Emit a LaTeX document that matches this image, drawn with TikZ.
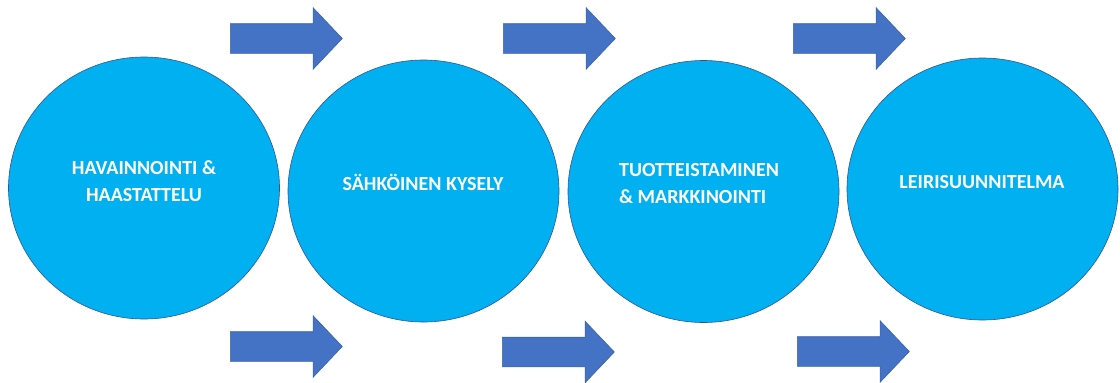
\documentclass[tikz,border=0pt]{standalone}
\usepackage{fontspec}
\setmainfont{Carlito}
\usetikzlibrary{shapes.geometric,shapes.arrows}
\definecolor{discfill}{HTML}{00B0F0}
\definecolor{discline}{HTML}{2F5597}
\definecolor{arrowfill}{HTML}{4472C4}
\definecolor{arrowline}{HTML}{3A62AA}
\tikzset{
  disc/.style={ellipse,draw=discline,fill=discfill,line width=0.6pt,
               minimum width=271,minimum height=262,inner sep=0pt},
  disctext/.style={text=white,font=\fontsize{20}{27}\selectfont\bfseries,
                   align=center,inner sep=0pt},
  blockarr/.style={single arrow,draw=arrowline,fill=arrowfill,line width=0.6pt,
                   minimum height=112,inner xsep=0pt,inner ysep=14.5pt,
                   single arrow head extend=16,single arrow tip angle=93,
                   single arrow head indent=0pt,anchor=tail}
}

\begin{document}
\begin{tikzpicture}[x=1pt,y=-1pt]
  \path[use as bounding box] (0,0) rectangle (1120,383);
  % the four steps
  \node[disc] (havainnointi) at (144,188) {};
  \node[disc] (kysely) at (423.5,191) {};
  \node[disc] (tuotteistaminen) at (703.5,191.5) {};
  \node[disc] (leiri) at (982.5,189) {};
  \node[disctext] (havainnointitxt) at (144,181)
    {HAVAINNOINTI \&\\HAASTATTELU};
  \node[disctext] (kyselytxt) at (423,182) {SÄHKÖINEN KYSELY};
  \node[disctext,align=left] (tuotteistaminentxt) at (699,184)
    {TUOTTEISTAMINEN\\\& MARKKINOINTI};
  \node[disctext] (leiritxt) at (982,182) {LEIRISUUNNITELMA};
  % block arrows above and below, placed by their tails
  \node[blockarr] (ylanuoli1) at (230,38.5) {};
  \node[blockarr] (ylanuoli2) at (503,38.5) {};
  \node[blockarr] (ylanuoli3) at (793,38.5) {};
  \node[blockarr] (alanuoli1) at (230,346.5) {};
  \node[blockarr] (alanuoli2) at (502,352) {};
  \node[blockarr] (alanuoli3) at (797,351.5) {};
\end{tikzpicture}
\end{document}
